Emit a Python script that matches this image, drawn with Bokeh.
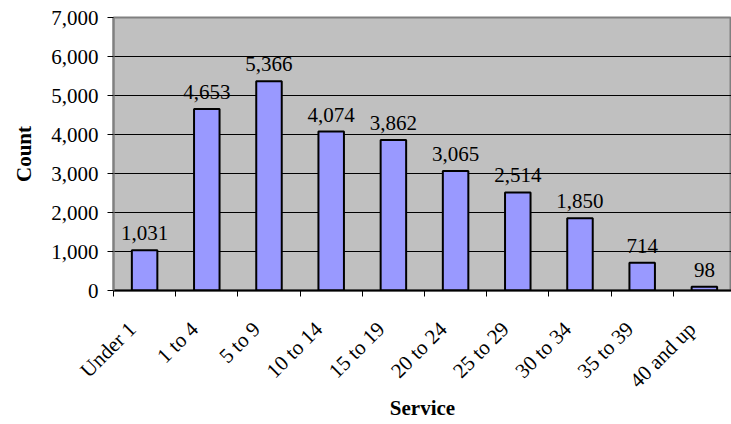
import math
from bokeh.plotting import figure
from bokeh.models import ColumnDataSource, FixedTicker, NumeralTickFormatter, Range1d
from bokeh.embed import file_html
from bokeh.resources import INLINE
from bokeh.core.properties import value

categories = ["Under 1", "1 to 4", "5 to 9", "10 to 14", "15 to 19",
              "20 to 24", "25 to 29", "30 to 34", "35 to 39", "40 and up"]
counts = [1031, 4653, 5366, 4074, 3862, 3065, 2514, 1850, 714, 98]
y_ticks = [0, 1000, 2000, 3000, 4000, 5000, 6000, 7000]

FONT = "Liberation Serif"

xs = [i + 0.5 for i in range(len(categories))]
labels = [f"{c:,}" for c in counts]
src = ColumnDataSource(dict(x=xs, top=counts, label=labels))

p = figure(width=731, height=424, output_backend="svg", toolbar_location=None,
           x_range=Range1d(0, 9.936), y_range=Range1d(0, 7000),
           min_border_left=113, min_border_top=17, min_border_right=0,
           min_border_bottom=134)

p.background_fill_color = "#C0C0C0"
p.border_fill_color = "white"
p.outline_line_color = "#808080"
p.outline_line_width = 2

p.vbar(x="x", top="top", width=0.41, source=src, fill_color="#9999FF",
       line_color="black", line_width=2)
p.text(x="x", y="top", text="label", source=src, text_align="center",
       text_baseline="alphabetic", y_offset=-17, text_font=value(FONT),
       text_font_size="21px", text_color="black")

# x axis: rotated labels anchored slightly left of each category centre
label_pos = [round(x - 0.2, 3) for x in xs]
xa = p.xaxis[0]
xa.ticker = FixedTicker(ticks=label_pos, minor_ticks=list(range(0, len(categories) + 1)))
xa.major_label_overrides = {x: c for x, c in zip(label_pos, categories)}
xa.major_label_orientation = math.pi / 4
xa.major_tick_out = 6
xa.major_tick_in = 0
xa.major_tick_line_color = None
xa.minor_tick_out = 6
xa.minor_tick_in = 0
xa.minor_tick_line_color = "black"
xa.axis_line_color = "black"
xa.axis_line_width = 2
xa.major_label_text_font = FONT
xa.major_label_text_font_size = "21px"
xa.major_label_text_color = "black"
xa.major_label_standoff = 29
xa.axis_label = "Service"
xa.axis_label_text_font = FONT
xa.axis_label_text_font_size = "21px"
xa.axis_label_text_font_style = "bold"
xa.axis_label_text_color = "black"
xa.axis_label_standoff = -8

# y axis
ya = p.yaxis[0]
ya.ticker = FixedTicker(ticks=y_ticks)
ya.formatter = NumeralTickFormatter(format="0,0")
ya.major_tick_out = 6
ya.major_tick_in = 0
ya.minor_tick_line_color = None
ya.major_tick_line_color = "black"
ya.axis_line_color = "#808080"
ya.axis_line_width = 2
ya.major_label_text_font = FONT
ya.major_label_text_font_size = "21px"
ya.major_label_text_color = "black"
ya.major_label_standoff = 9
ya.axis_label = "Count"
ya.axis_label_text_font = FONT
ya.axis_label_text_font_size = "21px"
ya.axis_label_text_font_style = "bold"
ya.axis_label_text_color = "black"
ya.axis_label_standoff = 12

p.xgrid.visible = False
p.ygrid.grid_line_color = "black"
p.ygrid.grid_line_width = 1

open("out.html", "w").write(file_html(p, INLINE))
